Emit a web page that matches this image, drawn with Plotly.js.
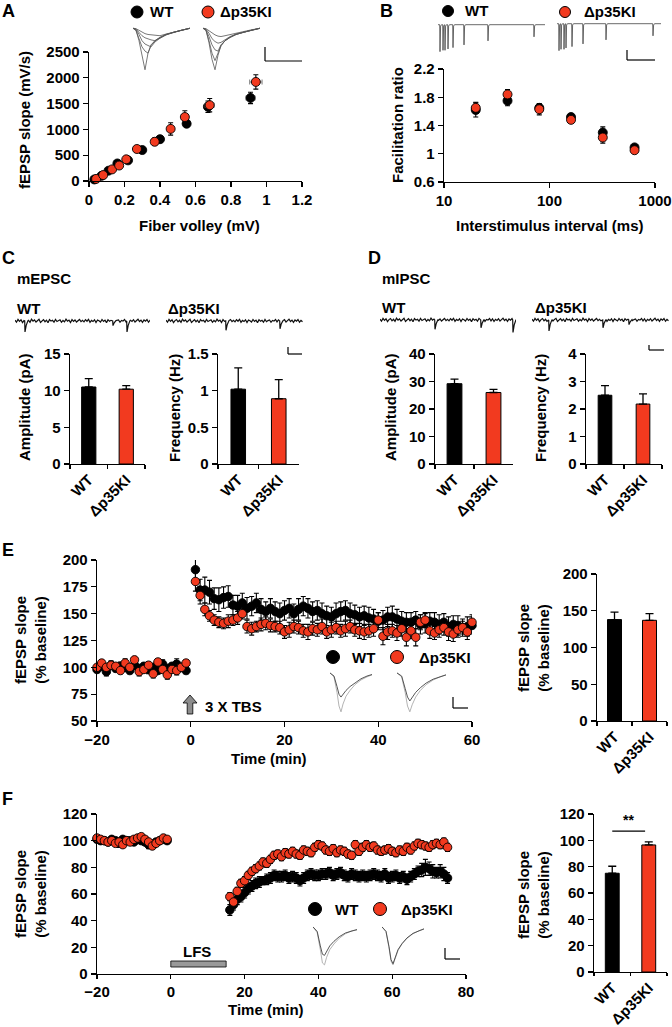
<!DOCTYPE html>
<html><head><meta charset="utf-8">
<script src="https://cdn.plot.ly/plotly-3.0.1.min.js"></script>
<style>html,body{margin:0;padding:0;background:#fff}#chart{width:672px;height:1027px}</style>
</head><body><div id="chart"></div>
<script>
// ---------------- DATA ----------------
// Panel A: input-output
const aWT_x = [0.03,0.07,0.11,0.16,0.22,0.30,0.40,0.55,0.67,0.91];
const aWT_y = [30,100,200,340,400,600,810,1110,1440,1610];
const aWT_ey = [15,20,25,30,35,30,40,60,110,110];
const aWT_ex = [0.005,0.005,0.008,0.01,0.01,0.01,0.012,0.015,0.02,0.025];
const aKI_x = [0.04,0.08,0.13,0.17,0.21,0.27,0.37,0.46,0.54,0.68,0.94];
const aKI_y = [40,115,225,300,420,620,760,1010,1240,1470,1920];
const aKI_ey = [15,20,25,30,35,40,70,120,120,130,140];
const aKI_ex = [0.005,0.005,0.008,0.01,0.01,0.01,0.015,0.015,0.02,0.025,0.035];
// Panel B: paired-pulse facilitation
const bISI = [20,40,80,160,320,640];
const bWT = [1.62,1.75,1.65,1.52,1.30,1.09];
const bWT_e = [0.1,0.07,0.05,0.03,0.08,0.03];
const bKI = [1.65,1.84,1.63,1.48,1.23,1.05];
const bKI_e = [0.08,0.07,0.08,0.03,0.08,0.03];
// Bar panels
const groups = ['WT','Δp35KI'];
const cAmp = [10.5,10.2], cAmpE = [1.15,0.5];
const cFreq = [1.02,0.89], cFreqE = [0.29,0.26];
const dAmp = [29.2,26.0], dAmpE = [1.7,1.1];
const dFreq = [2.5,2.18], dFreqE = [0.35,0.37];
const eBar = [138,137], eBarE = [10,9];
const fBar = [75,96.5], fBarE = [5.3,2.4];
// Panel E: LTP time course
const eTbase = [-20,-19,-18,-17,-16,-15,-14,-13,-12,-11,-10,-9,-8,-7,-6,-5,-4,-3,-2,-1];
const eTpost = [1,2,3,4,5,6,7,8,9,10,11,12,13,14,15,16,17,18,19,20,21,22,23,24,25,26,27,28,29,30,31,32,33,34,35,36,37,38,39,40,41,42,43,44,45,46,47,48,49,50,51,52,53,54,55,56,57,58,59,60];
const eWTbase = [98,101,96,102,99,101,100,97,102,99,101,98,100,97,103,99,101,103,100,97];
const eKIbase = [100,104,100,102,101,97,104,100,107,96,98,102,94,105,98,93,98,97,100,104];
const eWTbaseE = [3,3,4,3,3,4,3,3,4,3,3,4,3,3,4,3,3,5,3,3];
const eKIbaseE = [3,3,3,4,3,3,4,3,3,4,3,3,4,3,3,4,3,4,3,3];
const eWTpost = [191,172,172,170,164,163,165,166,158,157,160,155,157,160,154,152,155,152,150,153,155,150,154,157,155,152,153,150,148,147,150,152,153,150,149,147,148,146,145,143,144,147,147,145,143,142,142,144,140,141,143,142,140,142,138,140,139,137,138,139];
const eKIpost = [180,167,154,148,144,142,141,143,144,146,150,138,136,138,140,141,139,138,137,133,135,138,137,134,133,136,135,138,133,135,137,134,136,138,135,134,133,134,136,144,129,133,134,132,136,128,134,128,142,144,134,132,135,137,133,131,135,137,133,142];
const eWTpostE = [12,10,12,11,10,11,10,10,9,10,9,10,9,9,10,9,9,9,10,9,9,9,10,9,9,9,9,10,9,9,10,9,9,10,9,9,9,10,9,8,9,9,10,9,9,9,9,8,9,9,8,9,9,8,9,8,9,8,9,8];
const eKIpostE = [9,8,6,5,5,5,5,6,5,6,5,6,6,5,6,6,6,5,6,6,7,6,6,6,7,6,6,7,6,7,6,6,7,6,6,7,7,6,7,7,8,7,6,7,7,8,7,8,7,7,7,6,7,7,8,7,7,6,7,7];
// Panel F: LTD time course
const fTbase = [-20,-19,-18,-17,-16,-15,-14,-13,-12,-11,-10,-9,-8,-7,-6,-5,-4,-3,-2,-1];
const fTpost = [16,17,18,19,20,21,22,23,24,25,26,27,28,29,30,31,32,33,34,35,36,37,38,39,40,41,42,43,44,45,46,47,48,49,50,51,52,53,54,55,56,57,58,59,60,61,62,63,64,65,66,67,68,69,70,71,72,73,74,75];
const fWTbase = [101,100,100,99,101,100,98,101,100,100,99,101,100,99,97,97,99,100,101,100];
const fKIbase = [102,101,100,99,100,98,99,97,100,99,101,102,103,101,99,96,98,100,102,101];
const fWTpost = [48,52,56,58,61,64,66,68,69,70,71,72,74,73,73,74,72,73,72,70,72,74,75,74,74,75,75,76,74,75,76,74,73,75,74,73,74,73,74,75,74,73,75,72,73,74,72,73,71,73,75,77,78,80,79,77,76,77,75,72];
const fKIpost = [58,54,62,68,70,74,77,79,81,84,83,86,89,90,88,91,90,92,90,89,93,92,91,95,97,96,93,92,94,91,93,92,90,89,97,92,95,97,95,96,93,92,93,94,92,91,93,92,95,93,96,98,97,96,95,97,98,97,99,95];
const fWTbaseE = [2,2,2,2,2,2,3,2,2,2,2,2,2,2,3,2,2,2,2,2];
const fKIbaseE = [2,2,2,2,2,2,2,2,2,2,2,2,2,2,2,2,2,2,2,2];
const fWTpostE = [4,4,4,4,4,4,4,4,4,3,4,4,4,4,4,4,4,4,4,4,4,4,4,4,4,4,4,4,4,4,4,4,4,4,4,4,4,4,4,4,4,4,4,4,4,4,4,4,4,4,4,4,5,6,5,5,4,5,5,4];
const fKIpostE = [3,3,3,3,3,3,3,3,3,3,3,3,3,3,3,3,3,3,3,3,3,3,3,3,3,3,3,3,3,3,3,3,3,3,3,3,3,3,3,3,3,3,3,3,3,3,3,3,3,3,3,3,3,3,3,3,3,3,3,3];
// Example recordings (insets)
const aInsX = [0,3,6,9,12,15,18,22,27,33,40,48,57];
const aIns1 = [
 [0,-0.05,-0.3,-0.7,-1.0,-0.6,-0.4,-0.3,-0.22,-0.15,-0.1,-0.05,0],
 [0,-0.05,-0.25,-0.45,-0.55,-0.6,-0.42,-0.3,-0.22,-0.15,-0.1,-0.05,0],
 [0,-0.03,-0.15,-0.3,-0.38,-0.42,-0.45,-0.33,-0.24,-0.16,-0.1,-0.05,0],
 [0,-0.02,-0.1,-0.18,-0.23,-0.26,-0.28,-0.3,-0.23,-0.16,-0.1,-0.05,0],
 [0,-0.01,-0.05,-0.1,-0.13,-0.15,-0.16,-0.17,-0.18,-0.14,-0.1,-0.05,0]];
const aIns2 = [
 [0,-0.05,-0.35,-0.75,-1.0,-0.65,-0.42,-0.3,-0.22,-0.15,-0.1,-0.05,0],
 [0,-0.05,-0.3,-0.6,-0.78,-0.6,-0.42,-0.3,-0.22,-0.15,-0.1,-0.05,0],
 [0,-0.04,-0.2,-0.4,-0.52,-0.55,-0.4,-0.3,-0.22,-0.15,-0.1,-0.05,0],
 [0,-0.02,-0.12,-0.25,-0.32,-0.36,-0.34,-0.27,-0.2,-0.14,-0.1,-0.05,0],
 [0,-0.01,-0.06,-0.12,-0.16,-0.19,-0.2,-0.18,-0.15,-0.12,-0.08,-0.04,0]];
const bIns1T = [2,5,7,10,15,26,50,96], bIns1D = [1.0,0.95,0.95,0.9,0.85,0.75,0.6,0.45];
const bIns2T = [2,4,7,9,15,26,49,96], bIns2D = [1.0,0.95,0.95,0.9,0.85,0.75,0.6,0.45];
const noiseArr = [0.5,-0.8,1.0,-0.3,0.7,-1.1,0.2,0.9,-0.6,0.4,-0.9,1.1,-0.2,0.6,-0.7,0.3,1.0,-1.0,0.1,0.8,-0.5,0.5,-1.2,0.9,-0.1,0.4,-0.8,1.0,-0.4,0.2,0.7,-0.9,0.3,-0.6,1.1,-0.2,0.5,-1.0,0.8,-0.3,0.6,-0.7,0.2,0.9,-0.5,0.4,
  -0.6,0.8,-0.2,1.0,-0.9,0.3,-0.4,0.7,-1.0,0.6,0.1,-0.7,0.9,-0.3,0.5,-1.1,0.8,-0.2,0.4,-0.8,1.0,-0.5,0.2,0.6,-0.9,0.3,-0.1,0.9,-0.6,0.7,-1.0,0.4,-0.3,0.8,-0.7,0.2,1.1,-0.4,0.5,-0.9,0.6,-0.2,0.9,-0.8,0.3,-0.5];
const cWTevT = [10,98,112], cWTevD = [7,3,7];
const cKIevT = [60,114], cKIevD = [6,5];
const dWTevT = [55,101,133], dWTevD = [6,5,8];
const dKIevT = [17,71,97], dKIevD = [7,5,3];
const efInsX = [0,4,7,9,11,13,16,20,25,31,37,42];
const eIns1Light = [0,-0.1,-0.5,-0.85,-1.0,-0.8,-0.6,-0.45,-0.3,-0.18,-0.1,-0.05];
const eIns1Dark  = [0,-0.08,-0.35,-0.55,-0.62,-0.55,-0.45,-0.35,-0.25,-0.15,-0.08,-0.04];
const eIns2Light = [0,-0.1,-0.5,-0.85,-1.0,-0.82,-0.62,-0.45,-0.3,-0.18,-0.1,-0.05];
const eIns2Dark  = [0,-0.08,-0.4,-0.62,-0.72,-0.62,-0.5,-0.38,-0.26,-0.16,-0.09,-0.05];
const fIns1Light = [0,-0.15,-0.6,-0.95,-1.0,-0.8,-0.6,-0.45,-0.3,-0.18,-0.1,-0.08];
const fIns1Dark  = [0,-0.12,-0.5,-0.72,-0.75,-0.65,-0.5,-0.38,-0.26,-0.16,-0.1,-0.07];
const fIns2Light = [0,-0.12,-0.55,-0.9,-1.0,-0.85,-0.62,-0.45,-0.3,-0.18,-0.1,-0.06];
const fIns2Dark  = [0,-0.12,-0.52,-0.86,-0.97,-0.83,-0.6,-0.44,-0.29,-0.17,-0.1,-0.05];

// ---------------- BUILD ----------------
const W=672,H=1027;
const FONT='"Liberation Sans", Arial, sans-serif';
const RED='#f23a1f';
const X=p=>p/W, Y=p=>1-p/H;
const layout={width:W,height:H,margin:{l:0,r:0,t:0,b:0},autosize:false,showlegend:false,
  paper_bgcolor:'#fff',plot_bgcolor:'rgba(0,0,0,0)',
  font:{family:FONT,size:15,color:'#000',weight:'bold'},annotations:[],shapes:[]};
const traces=[];
function axisStyle(){return {showgrid:false,zeroline:false,showline:true,linecolor:'#000',linewidth:1.3,
  ticks:'outside',ticklen:5,tickwidth:1.3,tickcolor:'#000',
  tickfont:{family:FONT,size:15,color:'#000',weight:'bold'},fixedrange:true};}
function setAxes(n,x0,x1,yTop,yBot,xo,yo){
  const s=n===1?'':String(n);
  layout['xaxis'+s]=Object.assign(axisStyle(),{domain:[X(x0),X(x1)],anchor:'y'+s},xo||{});
  layout['yaxis'+s]=Object.assign(axisStyle(),{domain:[Y(yBot),Y(yTop)],anchor:'x'+s},yo||{});
  return {xaxis:'x'+s,yaxis:'y'+s};
}
function hiddenAxes(n,x0,x1,yTop,yBot,xr,yr){
  return setAxes(n,x0,x1,yTop,yBot,{visible:false,range:xr},{visible:false,range:yr});
}
function pts(ax,x,y,ey,color,size,ex){
  const t=Object.assign({type:'scatter',mode:'markers',x:x,y:y,cliponaxis:false,
    marker:{color:color,size:size,line:{color:'#000',width:0.9}},
    error_y:{type:'data',array:ey,color:'#000',thickness:1.1,width:2.5}},ax);
  if(ex) t.error_x={type:'data',array:ex,color:'#888',thickness:1.1,width:2.5};
  traces.push(t);
}
function bars(ax,vals,errs,w){
  traces.push(Object.assign({type:'bar',x:groups,y:vals,width:w,
    marker:{color:['#000',RED],line:{color:'#000',width:1}},
    error_y:{type:'data',array:errs,arrayminus:[0,0],color:'#000',thickness:1.3,width:4}},ax));
}
function line(ax,x,y,color,w){
  traces.push(Object.assign({type:'scatter',mode:'lines',x:x,y:y,line:{color:color,width:w||0.8},cliponaxis:false},ax));
}
function txt(t,x,y,o){layout.annotations.push(Object.assign({text:t,xref:'paper',yref:'paper',x:X(x),y:Y(y),
  showarrow:false,xanchor:'center',yanchor:'middle',font:{family:FONT,size:15,color:'#000',weight:'bold'}},o||{}));}
function circ(cx,cy,d,fill){layout.shapes.push({type:'circle',xref:'paper',yref:'paper',
  x0:X(cx-d/2),x1:X(cx+d/2),y0:Y(cy+d/2),y1:Y(cy-d/2),fillcolor:fill,line:{color:'#000',width:1}});}
function seg(x0,y0,x1,y1,w){layout.shapes.push({type:'line',xref:'paper',yref:'paper',
  x0:X(x0),y0:Y(y0),x1:X(x1),y1:Y(y1),line:{color:'#000',width:w||1.3}});}
function scaleBar(x,yTop,yBot,x2){seg(x,yTop,x,yBot,1.2);seg(x,yBot,x2,yBot,1.2);}
function spikeLine(times,depths,len){
  const p=[[0,0]];
  times.forEach((t,i)=>{p.push([t-0.3,0],[t,-depths[i]],[t+0.6,-0.05],[t+1.5,0]);});
  p.push([len,0]); p.sort((a,b)=>a[0]-b[0]);
  return {x:p.map(q=>q[0]),y:p.map(q=>q[1])};
}
function noisyLine(noise,step,evT,evD){
  let p=noise.map((v,i)=>[i*step,v]);
  evT.forEach((t,i)=>{p=p.filter(q=>q[0]<t-0.5||q[0]>t+3);
    p.push([t-0.3,0],[t,-evD[i]],[t+1.2,-evD[i]*0.4],[t+3,0.2]);});
  p.sort((a,b)=>a[0]-b[0]);
  return {x:p.map(q=>q[0]),y:p.map(q=>q[1])};
}
const barX={type:'category',range:[-0.5,1.5],tickson:'boundaries',tickangle:-45,ticklen:4};

// Panel A
const axA=setAxes(1,89,302,52,181,{range:[0,1.2],dtick:0.2,tick0:0},{range:[0,2500],dtick:500});
pts(axA,aWT_x,aWT_y,aWT_ey,'#000',9,aWT_ex);
pts(axA,aKI_x,aKI_y,aKI_ey,RED,9,aKI_ex);
// Panel B
const axB=setAxes(2,444,655,69,182,{type:'log',range:[1,3],tickvals:[10,100,1000],ticktext:['10','100','1000']},{range:[0.6,2.2],dtick:0.4,tick0:0.6});
pts(axB,bISI,bWT,bWT_e,'#000',9);
pts(axB,bISI,bKI,bKI_e,RED,9);
// Panel C, D bars
const axC1=setAxes(3,70,145,354,464,barX,{range:[0,15],dtick:5});
bars(axC1,cAmp,cAmpE,0.38);
const axC2=setAxes(4,218,299,354,464,barX,{range:[0,1.5],dtick:0.5});
bars(axC2,cFreq,cFreqE,0.36);
const axD1=setAxes(5,435,513,354,464,barX,{range:[0,40],dtick:10});
bars(axD1,dAmp,dAmpE,0.38);
const axD2=setAxes(6,586,662,354,464,barX,{range:[0,4],dtick:1});
bars(axD2,dFreq,dFreqE,0.36);
// Panel E
const axE=setAxes(7,97,472,560,721,{range:[-20,60],dtick:20},{range:[50,200],dtick:25});
pts(axE,eTbase,eWTbase,eWTbaseE,'#000',8.5);
pts(axE,eTpost,eWTpost,eWTpostE,'#000',8.5);
pts(axE,eTbase,eKIbase,eKIbaseE,RED,8.5);
pts(axE,eTpost,eKIpost,eKIpostE,RED,8.5);
const axE2=setAxes(8,597,667,574,721,barX,{range:[0,200],dtick:50});
bars(axE2,eBar,eBarE,0.4);
// Panel F
const axF=setAxes(9,97,466,814,974,{range:[-20,80],dtick:20,ticklen:4},{range:[0,120],dtick:20});
pts(axF,fTbase,fWTbase,fWTbaseE,'#000',8.5);
pts(axF,fTpost,fWTpost,fWTpostE,'#000',8.5);
pts(axF,fTbase,fKIbase,fKIbaseE,RED,8.5);
pts(axF,fTpost,fKIpost,fKIpostE,RED,8.5);
const axF2=setAxes(10,594,667,814,972,Object.assign({},barX,{ticklen:3}),{range:[0,120],dtick:20});
bars(axF2,fBar,fBarE,0.38);

// Insets
const axAi1=hiddenAxes(11,133,190,27,71,[0,57],[-1.03,0.03]);
aIns1.forEach(y=>line(axAi1,aInsX,y,'#555',0.8));
const axAi2=hiddenAxes(12,203,260,27,71,[0,57],[-1.03,0.03]);
aIns2.forEach(y=>line(axAi2,aInsX,y,'#555',0.8));
const axBi1=hiddenAxes(13,438,545,22,53,[0,107],[-1.05,0.1]);
const sb1=spikeLine(bIns1T,bIns1D,107); line(axBi1,sb1.x,sb1.y,'#444',0.8);
const axBi2=hiddenAxes(14,557,661,21,52,[0,104],[-1.05,0.1]);
const sb2=spikeLine(bIns2T,bIns2D,104); line(axBi2,sb2.x,sb2.y,'#444',0.8);
const axCi1=hiddenAxes(15,15,150,317,335,[0,135],[-9,2.5]);
const nc1=noisyLine(noiseArr,1.5,cWTevT,cWTevD); line(axCi1,nc1.x,nc1.y,'#111',1.2);
const axCi2=hiddenAxes(16,166,303,317,335,[0,137],[-9,2.5]);
const nc2=noisyLine(noiseArr,1.5,cKIevT,cKIevD); line(axCi2,nc2.x,nc2.y,'#111',1.2);
const axDi1=hiddenAxes(17,380,516,316,334,[0,136],[-9,2.5]);
const nd1=noisyLine(noiseArr,1.5,dWTevT,dWTevD); line(axDi1,nd1.x,nd1.y,'#111',1.2);
const axDi2=hiddenAxes(18,532,672,316,334,[0,140],[-9,2.5]);
const nd2=noisyLine(noiseArr,1.5,dKIevT,dKIevD); line(axDi2,nd2.x,nd2.y,'#111',1.2);
const axEi1=hiddenAxes(19,330,372,671,713,[0,42],[-1.03,0.05]);
line(axEi1,efInsX,eIns1Light,'#aaa',0.9); line(axEi1,efInsX,eIns1Dark,'#444',0.9);
const axEi2=hiddenAxes(20,397,446,671,713,[0,42],[-1.03,0.05]);
line(axEi2,efInsX,eIns2Light,'#aaa',0.9); line(axEi2,efInsX,eIns2Dark,'#444',0.9);
const axFi1=hiddenAxes(21,313,357,925,966,[0,42],[-1.03,0.05]);
line(axFi1,efInsX,fIns1Light,'#aaa',0.9); line(axFi1,efInsX,fIns1Dark,'#444',0.9);
const axFi2=hiddenAxes(22,382,424,925,966,[0,42],[-1.03,0.05]);
line(axFi2,efInsX,fIns2Light,'#aaa',0.9); line(axFi2,efInsX,fIns2Dark,'#444',0.9);

// Scale bars
scaleBar(265,47,61,302);
scaleBar(627,50,60,655);
scaleBar(288,347,354,302);
scaleBar(649,345,350,664);
scaleBar(453,697,708,468);
scaleBar(445,948,959,460);

// Legends
circ(137,12,12,'#000'); txt('WT',148,12,{xanchor:'left'});
circ(208,12,12,RED); txt('Δp35KI',218,12,{xanchor:'left'});
circ(448,11,11,'#000'); txt('WT',463,11,{xanchor:'left'});
circ(565,12,11,RED); txt('Δp35KI',582,12,{xanchor:'left'});
circ(333,657,13,'#000'); txt('WT',350,657,{xanchor:'left'});
circ(397,657,13,RED); txt('Δp35KI',417,657,{xanchor:'left'});
circ(315,909,13,'#000'); txt('WT',333,909,{xanchor:'left'});
circ(380,909,13,RED); txt('Δp35KI',399,909,{xanchor:'left'});

// Panel letters
const big={xanchor:'left',font:{family:FONT,size:18,color:'#000',weight:'bold'}};
txt('A',0,11,big); txt('B',378,11,big); txt('C',0,258,big); txt('D',366,258,big); txt('E',0,550,big); txt('F',0,799,big);
// Titles
txt('Fiber volley (mV)',199,225);
txt('fEPSP slope (mV/s)',24,120,{textangle:-90});
txt('Interstimulus interval (ms)',550,225);
txt('Facilitation ratio',398,125,{textangle:-90});
txt('mEPSC',15,278,{xanchor:'left'}); txt('WT',15,308,{xanchor:'left'}); txt('Δp35KI',166,308,{xanchor:'left'});
txt('mIPSC',380,278,{xanchor:'left'}); txt('WT',380,307,{xanchor:'left'}); txt('Δp35KI',533,307,{xanchor:'left'});
txt('Amplitude (pA)',24,408,{textangle:-90});
txt('Frequency (Hz)',174,408,{textangle:-90});
txt('Amplitude (pA)',390,408,{textangle:-90});
txt('Frequency (Hz)',540,408,{textangle:-90});
txt('fEPSP slope<br>(% baseline)',30,640,{textangle:-90});
txt('fEPSP slope<br>(% baseline)',533,648,{textangle:-90});
txt('Time (min)',269,758);
txt('fEPSP slope<br>(% baseline)',30,894,{textangle:-90});
txt('fEPSP slope<br>(% baseline)',533,895,{textangle:-90});
txt('Time (min)',266,1009);
// TBS arrow
const ac=190;
layout.shapes.push({type:'path',xref:'paper',yref:'paper',fillcolor:'#8c8c8c',line:{color:'#000',width:0.8},
  path:`M ${X(ac-2.8)},${Y(714)} L ${X(ac-2.8)},${Y(703)} L ${X(ac-7)},${Y(703)} L ${X(ac)},${Y(695)} L ${X(ac+7)},${Y(703)} L ${X(ac+2.8)},${Y(703)} L ${X(ac+2.8)},${Y(714)} Z`});
txt('3 X TBS',233,706);
// LFS bar
layout.shapes.push({type:'rect',xref:'x9',yref:'paper',x0:0,x1:15,y0:Y(967),y1:Y(961),fillcolor:'#999',line:{color:'#000',width:0.8}});
txt('LFS',197,951);
// Significance
layout.shapes.push({type:'line',xref:'x10',yref:'y10',x0:0,x1:0.9,y0:107,y1:107,line:{color:'#000',width:1.2}});
layout.annotations.push({text:'**',xref:'x10',yref:'y10',x:0.45,y:108,yanchor:'bottom',showarrow:false,font:{family:FONT,size:14,color:'#000',weight:'bold'}});

Plotly.newPlot('chart',traces,layout,{staticPlot:true,displayModeBar:false});
</script></body></html>
